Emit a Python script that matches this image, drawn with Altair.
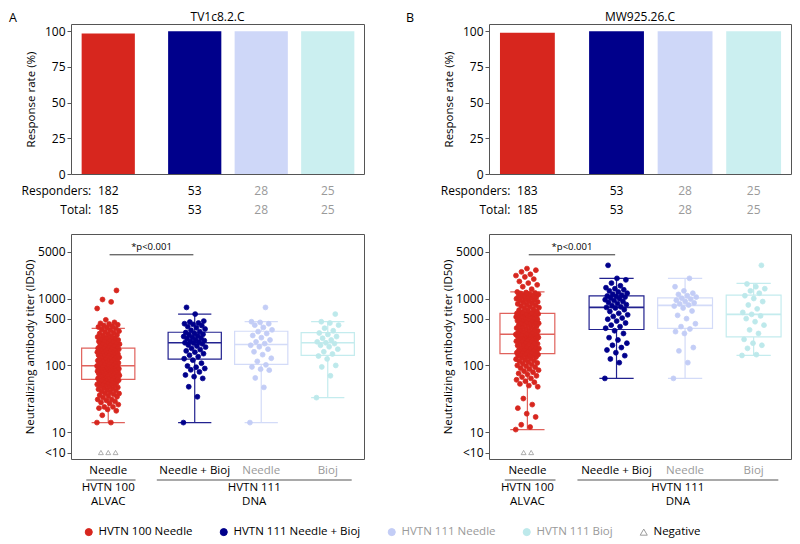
import altair as alt
import pandas as pd

# ---------------- values ----------------
GROUPS = ["HVTN 100 Needle", "HVTN 111 Needle + Bioj", "HVTN 111 Needle", "HVTN 111 Bioj"]
ARMS = ["Needle", "Needle + Bioj", "Needle", "Bioj"]
TRIALS = ["HVTN 100", "HVTN 111"]
VECTORS = ["ALVAC", "DNA"]
LEGEND_ITEMS = GROUPS + ["Negative"]
ROW_LABELS = ["Responders:", "Total:"]

TITLE_A = "TV1c8.2.C"
TITLE_B = "MW925.26.C"
RESPONDERS_A = [182, 53, 28, 25]
TOTAL_A = [185, 53, 28, 25]
RESPONDERS_B = [183, 53, 28, 25]
TOTAL_B = [185, 53, 28, 25]

# box statistics (ID50): lower whisker, Q1, median, Q3, upper whisker
LOW_A = [14, 14, 14, 33]
Q1_A = [62, 124, 104, 141]
MED_A = [99, 218, 206, 218]
Q3_A = [181, 313, 324, 309]
HIGH_A = [359, 585, 452, 452]

LOW_B = [11, 64, 64, 141]
Q1_B = [150, 344, 359, 267]
MED_B = [293, 736, 789, 580]
Q3_B = [600, 1098, 1025, 1120]
HIGH_B = [1257, 2000, 2000, 1683]

# individual titers (responders)
RED_A = [14, 14, 18, 21, 22, 23, 24, 24, 26, 27, 28, 29, 30, 31, 31, 33, 34, 35, 36, 37,
         38, 38, 40, 41, 42, 43, 44, 45, 46, 47, 48, 49, 50, 51, 52, 53, 54, 55, 56, 57,
         58, 59, 60, 61, 61,
         62, 63, 64, 65, 66, 66, 67, 68, 69, 70, 71, 72, 72, 73, 74, 75, 76, 77, 78, 79,
         80, 80, 81, 82, 83, 84, 85, 86, 86, 87, 88, 89, 90, 90, 91, 92, 93, 94, 94, 95,
         96, 96, 97, 98, 98, 99,
         100, 101, 103, 104, 106, 108, 109, 111, 112, 114, 116, 118, 119, 121, 123, 125,
         127, 128, 130, 132, 134, 136, 138, 140, 142, 144, 146, 148, 150, 152, 154, 156,
         158, 160, 162, 164, 166, 168, 170, 172, 174, 175, 177, 178, 180, 181,
         185, 188, 190, 196, 199, 202, 205, 208, 212, 216, 220, 224, 228, 232, 236, 240,
         245, 250, 255, 260, 266, 272, 278, 285, 292, 300, 308, 316, 325, 335, 345, 355,
         365, 375, 385, 395, 405, 415, 425, 440, 480, 710, 890, 966, 1320]
NAVY_A = [14, 34, 48, 64, 68, 72, 80, 86, 90, 94, 98, 108, 120, 126, 135, 142, 150, 158,
          165, 172, 180, 188, 195, 202, 210, 216, 218, 222, 228, 235, 242, 250, 256, 262,
          270, 278, 285, 292, 300, 310, 320, 335, 350, 365, 380, 395, 410, 420, 430, 445,
          460, 585, 736]
LIGHT_A = [14, 47, 65, 85, 88, 95, 102, 115, 128, 145, 160, 175, 190, 200, 212, 225, 240,
           260, 280, 300, 320, 340, 370, 400, 420, 440, 450, 736]
CYAN_A = [33, 70, 95, 100, 125, 138, 148, 160, 175, 190, 200, 212, 218, 225, 240, 255, 270,
          290, 305, 330, 360, 400, 430, 450, 585]

RED_B = [11, 12, 13, 17, 19, 23, 26, 32, 48, 50, 53, 56, 58, 61, 64, 67, 70, 73, 76, 79,
         82, 85, 88, 91, 94, 97, 100, 103, 106, 109, 112, 115, 118, 121, 124, 127, 130,
         133, 136, 139, 141, 143, 145, 147, 148, 149,
         152, 155, 158, 161, 164, 167, 170, 173, 176, 179, 182, 186, 190, 194, 198, 202,
         206, 210, 214, 218, 222, 226, 230, 234, 238, 242, 246, 250, 254, 258, 262, 266,
         270, 273, 276, 279, 281, 283, 285, 287, 288, 289, 290, 291, 292, 293,
         296, 302, 308, 314, 320, 327, 334, 341, 348, 355, 362, 370, 378, 386, 394, 402,
         410, 418, 426, 434, 442, 450, 458, 466, 474, 482, 490, 498, 506, 514, 522, 530,
         538, 546, 554, 562, 568, 574, 580, 585, 590, 594, 597, 598, 599,
         610, 625, 640, 655, 670, 690, 710, 730, 750, 770, 790, 810, 830, 850, 870, 890,
         910, 930, 950, 970, 990, 1010, 1030, 1050, 1070, 1090, 1110, 1130, 1150, 1170,
         1190, 1210, 1230, 1250, 1380, 1500, 1600, 1700, 1800, 1950, 2100, 2200, 2300,
         2500, 2650, 2800]
NAVY_B = [64, 110, 125, 140, 155, 170, 185, 200, 215, 240, 260, 300, 330, 360, 380, 400,
          430, 460, 490, 510, 540, 570, 600, 640, 680, 720, 736, 750, 780, 810, 840, 870,
          900, 930, 960, 990, 1020, 1050, 1070, 1090, 1120, 1160, 1200, 1250, 1300, 1350,
          1400, 1450, 1550, 1700, 1900, 2000, 3130]
LIGHT_B = [64, 110, 165, 185, 300, 320, 350, 380, 420, 500, 560, 650, 720, 770, 800, 830,
           860, 900, 940, 980, 1010, 1050, 1100, 1150, 1200, 1300, 1500, 2000]
CYAN_B = [141, 145, 180, 200, 215, 245, 300, 340, 400, 450, 500, 550, 580, 620, 700, 800,
          900, 1000, 1100, 1200, 1300, 1400, 1500, 1650, 3130]

NEG_LEVEL = 5          # "<10" row
P_LABEL = "*p<0.001"
P_LEVEL = 4500

# ---------------- styling / layout ----------------
FONT = "Open Sans"
FS = 11.5
BAR_COL = ["#d7261e", "#00008b", "#ced7f8", "#cbeff0"]
BOX_COL = ["#e0625c", "#22228f", "#d3dbf8", "#c4ecee"]
TXT_COL = ["#000000", "#000000", "#9a9a9a", "#9a9a9a"]
PT_FILL = ["#d7261e", "#00008b", "#c3cdf6", "#bde9eb", "transparent"]
PT_STROKE = ["#d7261e", "#00008b", "#c3cdf6", "#bde9eb", "#9a9a9a"]
PT_SHAPE = ["circle", "circle", "circle", "circle", "triangle-up"]
XDOM = [-0.56, 3.845]
HB, HX = 150, 225
ROW_Y = [17, 35.5]


def slot(i):
    return i + (0.3 if i > 0 else 0.0)


LEG = alt.Legend(
    title=None, orient="none", legendX=12, legendY=502, direction="horizontal",
    columns=5, symbolSize=50, symbolStrokeWidth=1, labelFontSize=FS, labelFont=FONT,
    columnPadding=25, labelOffset=4, padding=0,
    labelColor=alt.ExprRef(expr="(datum.value == 'HVTN 111 Needle' || datum.value == 'HVTN 111 Bioj') ? '#9a9a9a' : '#000000'"),
)


def panel(letter, letter_dx, title, resp, total, low, q1, med, q3, high, series, W):
    xs = alt.Scale(domain=XDOM, nice=False, zero=False)
    pos = [slot(i) for i in range(4)]
    g = pd.DataFrame({"group": GROUPS, "arm": ARMS, "pos": pos, "resp": resp, "total": total,
                      "low": low, "q1": q1, "med": med, "q3": q3, "high": high})
    g["rate"] = g["resp"] / g["total"] * 100
    g["lo"] = g["pos"] - 0.4
    g["hi"] = g["pos"] + 0.4
    g["clo"] = g["pos"] - 0.25
    g["chi"] = g["pos"] + 0.25
    g["bar"] = BAR_COL
    g["box"] = BOX_COL
    g["txt"] = TXT_COL
    base = alt.Chart(g)

    # ---- top: response rate bars ----
    bars = base.mark_rect().encode(
        x=alt.X("lo:Q", scale=xs, axis=None), x2="hi:Q",
        y=alt.Y("rate:Q", scale=alt.Scale(domain=[0, 105], nice=False),
                axis=alt.Axis(values=[0, 25, 50, 75, 100], title="Response rate (%)", titlePadding=8)),
        y2=alt.datum(0),
        color=alt.Color("bar:N", scale=None),
    )
    resp_t = base.mark_text(fontSize=12).encode(
        x=alt.X("pos:Q", scale=xs, axis=None), y=alt.value(HB + ROW_Y[0]),
        text="resp:Q", color=alt.Color("txt:N", scale=None))
    tot_t = base.mark_text(fontSize=12).encode(
        x=alt.X("pos:Q", scale=xs, axis=None), y=alt.value(HB + ROW_Y[1]),
        text="total:Q", color=alt.Color("txt:N", scale=None))
    row1 = alt.Chart(pd.DataFrame({"t": [ROW_LABELS[0]]})).mark_text(
        fontSize=12, align="right", dx=-17).encode(x=alt.datum(0), y=alt.value(HB + ROW_Y[0]), text="t:N")
    row2 = alt.Chart(pd.DataFrame({"t": [ROW_LABELS[1]]})).mark_text(
        fontSize=12, align="right", dx=-17).encode(x=alt.datum(0), y=alt.value(HB + ROW_Y[1]), text="t:N")
    ttl = alt.Chart(pd.DataFrame({"t": [title]})).mark_text(
        fontSize=12, baseline="top").encode(x=alt.value(W / 2), y=alt.value(-12), text="t:N")
    let = alt.Chart(pd.DataFrame({"t": [letter]})).mark_text(
        fontSize=12.5, baseline="top", align="left").encode(x=alt.value(letter_dx), y=alt.value(-12), text="t:N")
    top = alt.layer(bars, resp_t, tot_t, row1, row2, ttl, let).properties(width=W, height=HB)

    # ---- bottom: titers ----
    ys = alt.Scale(type="log", domain=[4, 9200], nice=False)
    yax = alt.Axis(values=[5, 10, 100, 500, 1000, 5000],
                   labelExpr="datum.value == 5 ? '<10' : format(datum.value, 'd')",
                   title="Neutralizing antibody titer (ID50)", titlePadding=2)
    boxes = base.mark_rect(filled=False, strokeWidth=1.2).encode(
        x=alt.X("lo:Q", scale=xs, axis=None), x2="hi:Q",
        y=alt.Y("q1:Q", scale=ys, axis=yax), y2="q3:Q",
        color=alt.Color("box:N", scale=None))
    meds = base.mark_rule(strokeWidth=1.6).encode(
        x="lo:Q", x2="hi:Q", y="med:Q", color=alt.Color("box:N", scale=None))
    wl = base.mark_rule(strokeWidth=1.2).encode(
        x="pos:Q", y="low:Q", y2="q1:Q", color=alt.Color("box:N", scale=None))
    wh = base.mark_rule(strokeWidth=1.2).encode(
        x="pos:Q", y="q3:Q", y2="high:Q", color=alt.Color("box:N", scale=None))
    cl = base.mark_rule(strokeWidth=1.2).encode(
        x="clo:Q", x2="chi:Q", y="low:Q", color=alt.Color("box:N", scale=None))
    ch = base.mark_rule(strokeWidth=1.2).encode(
        x="clo:Q", x2="chi:Q", y="high:Q", color=alt.Color("box:N", scale=None))

    rows = []
    for gi, vals in enumerate(series):
        for k, v in enumerate(vals):
            rows.append({"legend": GROUPS[gi], "titer": v,
                         "xj": pos[gi] + ((k * 0.618034) % 1 - 0.5) * 0.34})
    n_neg = total[0] - resp[0]
    for k in range(n_neg):
        rows.append({"legend": "Negative", "titer": NEG_LEVEL,
                     "xj": pos[0] + (k - (n_neg - 1) / 2) * 0.11})
    pts = pd.DataFrame(rows)
    points = alt.Chart(pts).mark_point(filled=True, size=24, strokeWidth=0.8, opacity=1).encode(
        x="xj:Q", y="titer:Q",
        fill=alt.Fill("legend:N", scale=alt.Scale(domain=LEGEND_ITEMS, range=PT_FILL), legend=LEG),
        stroke=alt.Stroke("legend:N", scale=alt.Scale(domain=LEGEND_ITEMS, range=PT_STROKE), legend=LEG),
        shape=alt.Shape("legend:N", scale=alt.Scale(domain=LEGEND_ITEMS, range=PT_SHAPE), legend=LEG),
    )

    pdf = pd.DataFrame({"t": [P_LABEL], "x1": [0.02], "x2": [1.28], "y": [P_LEVEL]})
    pdf["xm"] = (pdf["x1"] + pdf["x2"]) / 2
    prule = alt.Chart(pdf).mark_rule(color="#333", strokeWidth=1).encode(x="x1:Q", x2="x2:Q", y="y:Q")
    ptext = alt.Chart(pdf).mark_text(fontSize=9.5, dy=-8).encode(x="xm:Q", y="y:Q", text="t:N")

    arm_t = base.mark_text(fontSize=FS).encode(
        x="pos:Q", y=alt.value(HX + 12), text="arm:N", color=alt.Color("txt:N", scale=None))
    tr = pd.DataFrame({"trial": TRIALS, "vector": VECTORS, "x1": [-0.33, 0.73], "x2": [0.41, 3.66]})
    tr["xm"] = [pos[0], (0.73 + 3.66) / 2]
    trule = alt.Chart(tr).mark_rule(color="#555", strokeWidth=1.2).encode(
        x="x1:Q", x2="x2:Q", y=alt.value(HX + 21))
    tt1 = alt.Chart(tr).mark_text(fontSize=FS).encode(x="xm:Q", y=alt.value(HX + 29), text="trial:N")
    tt2 = alt.Chart(tr).mark_text(fontSize=FS).encode(x="xm:Q", y=alt.value(HX + 42.5), text="vector:N")

    bottom = alt.layer(boxes, meds, wl, wh, cl, ch, points, prule, ptext,
                       arm_t, trule, tt1, tt2).properties(width=W, height=HX)
    return top, bottom


topA, botA = panel("A", -62, TITLE_A, RESPONDERS_A, TOTAL_A, LOW_A, Q1_A, MED_A, Q3_A, HIGH_A,
                   [RED_A, NAVY_A, LIGHT_A, CYAN_A], 293)
topB, botB = panel("B", -83, TITLE_B, RESPONDERS_B, TOTAL_B, LOW_B, Q1_B, MED_B, Q3_B, HIGH_B,
                   [RED_B, NAVY_B, LIGHT_B, CYAN_B], 302)

chart = alt.concat(topA, topB, botA, botB, columns=2, bounds="flush",
                   spacing={"row": 60, "column": 125}).resolve_scale(
    x="independent", y="independent", fill="shared", stroke="shared", shape="shared"
).properties(padding={"left": 0, "top": 2, "right": 0, "bottom": 0}).configure(font=FONT).configure_view(
    stroke="#555", strokeWidth=1
).configure_axis(
    domain=False, grid=False, tickColor="#555", tickSize=4, labelFontSize=12,
    labelColor="#000", labelPadding=2, titleFontSize=FS, titleFontWeight="normal",
    titleColor="#000", labelFont=FONT, titleFont=FONT
).configure_text(font=FONT)

chart.save("out.html", embed_options={"renderer": "svg", "actions": False})
